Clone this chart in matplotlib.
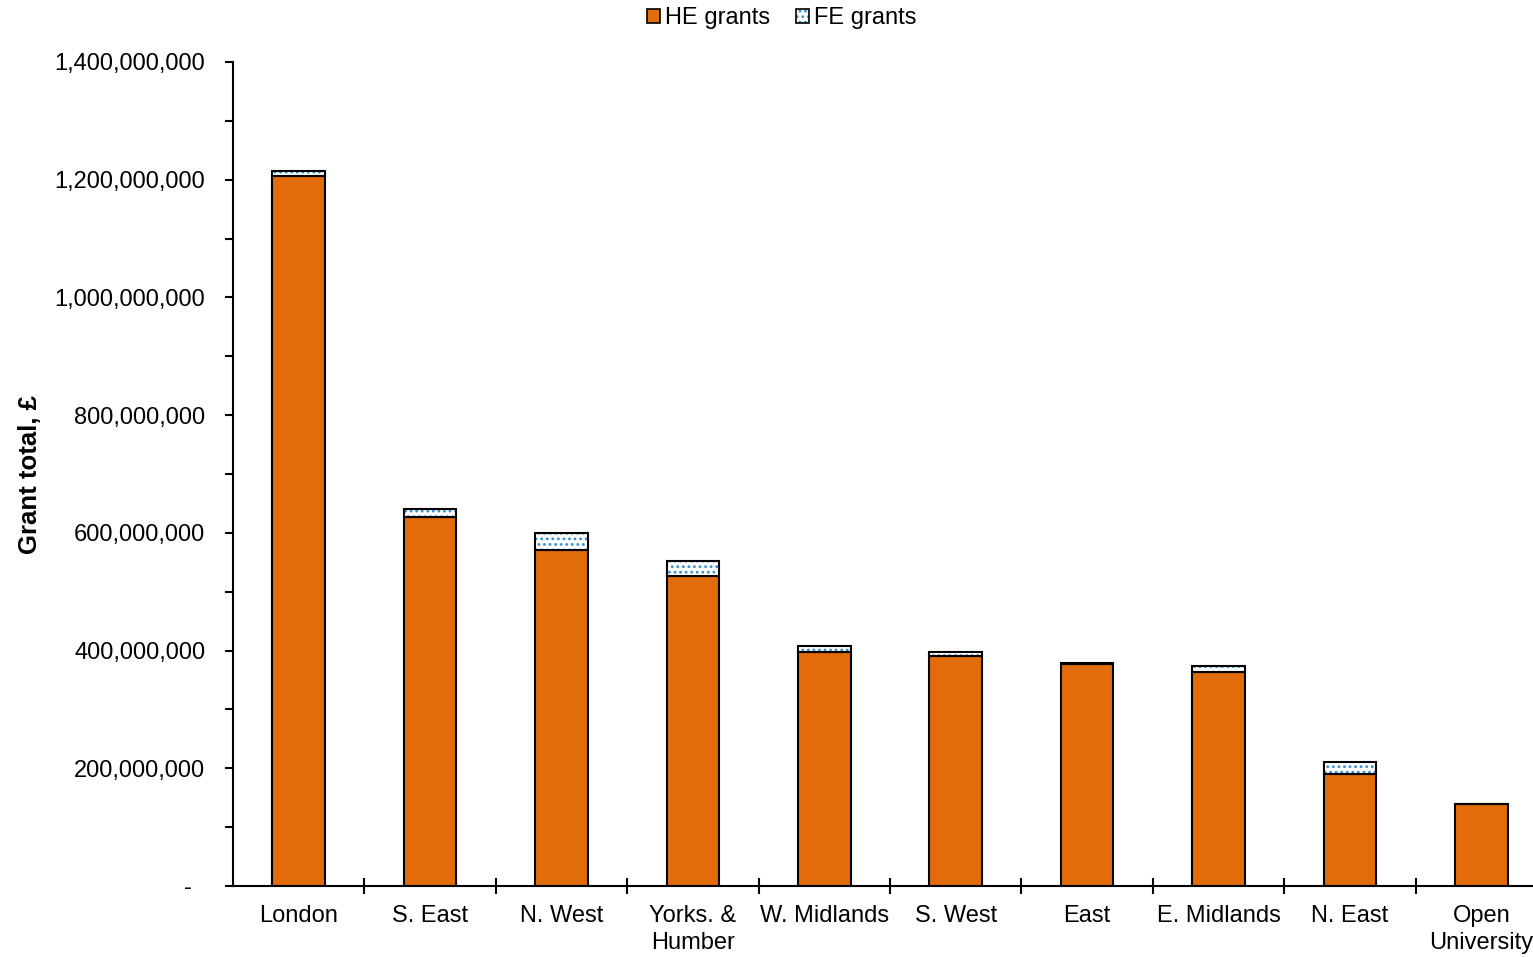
import matplotlib
matplotlib.use('Agg')
from matplotlib import pyplot as plt
import matplotlib.patches as mpatches
from matplotlib.ticker import FuncFormatter, MultipleLocator
import numpy

# data
regions = ['London', 'S. East', 'N. West', 'Yorks. &\nHumber', 'W. Midlands',
           'S. West', 'East', 'E. Midlands', 'N. East', 'Open\nUniversity']
he_grants = [1206e6, 627e6, 571e6, 527e6, 398e6, 391e6, 377e6, 364e6, 190e6, 139e6]
fe_grants = [9e6, 13e6, 29e6, 25e6, 10e6, 7e6, 2e6, 10e6, 21e6, 0]

orange = '#E36C0A'
dot_blue = '#2E8FD8'

plt.rcParams['font.family'] = ['Liberation Sans', 'DejaVu Sans']
plt.rcParams['hatch.linewidth'] = 1.2

fig = plt.figure(figsize=(15.33, 9.57), dpi=100)
ax = fig.add_axes([233 / 1533, 71 / 957, 1314 / 1533, 824 / 957])

x = numpy.arange(len(regions))
width = 0.4

ax.bar(x, he_grants, width=width, color=orange, edgecolor='black', linewidth=1.5, zorder=2)
# FE: dotted fill first, black outline on top
ax.bar(x, fe_grants, width=width, bottom=he_grants, color='white', edgecolor=dot_blue,
       hatch='...', linewidth=0, zorder=2)
ax.bar(x, fe_grants, width=width, bottom=he_grants, fill=False, edgecolor='black',
       linewidth=1.5, zorder=3)

ax.set_xlim(-0.5, len(regions) - 0.5)
ax.set_ylim(0, 1.4e9)

def fmt(v, pos):
    # excel accounting style: zero shown as a dash
    if v == 0:
        return '-  '
    return f'{int(v):,}'

ax.yaxis.set_major_locator(MultipleLocator(2e8))
ax.yaxis.set_minor_locator(MultipleLocator(1e8))
ax.yaxis.set_major_formatter(FuncFormatter(fmt))
ax.tick_params(axis='y', which='major', length=6, width=1.5, labelsize=17, pad=14, direction='out')
ax.tick_params(axis='y', which='minor', length=6, width=1.5, direction='out')

ax.set_xticks(x)
ax.set_xticklabels(regions, fontsize=17, linespacing=1.25)
ax.tick_params(axis='x', which='major', length=0, pad=14)
ax.set_xticks(x[:-1] + 0.5, minor=True)
ax.tick_params(axis='x', which='minor', length=12, width=1.5, direction='inout')

for s in ['top', 'right']:
    ax.spines[s].set_visible(False)
ax.spines['left'].set_linewidth(1.5)
ax.spines['bottom'].set_linewidth(1.5)

ax.set_ylabel('Grant total, £', fontsize=18.5, fontweight='bold', labelpad=9)

he_handle = mpatches.Patch(facecolor=orange, edgecolor='black', linewidth=1.2)
fe_dots = mpatches.Patch(facecolor='white', edgecolor=dot_blue, hatch='...', linewidth=0)
fe_edge = mpatches.Patch(fill=False, edgecolor='black', linewidth=1.2)
fig.legend(handles=[he_handle, (fe_dots, fe_edge)], labels=['HE grants', 'FE grants'],
           loc='center', bbox_to_anchor=(782 / 1533, 1 - 18 / 957), ncol=2,
           frameon=False, fontsize=17, handlelength=0.55, handleheight=0.55, handletextpad=0.2,
           columnspacing=1.1)

plt.savefig('out.png', dpi=100)
